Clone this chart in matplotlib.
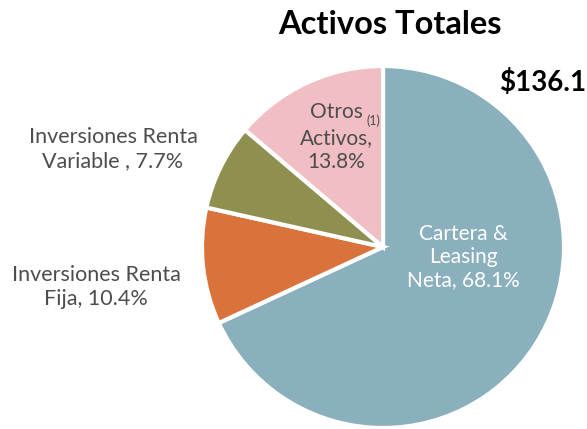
import matplotlib
matplotlib.use("Agg")
import matplotlib.pyplot as plt

categorias = ["Cartera &\nLeasing\nNeta", "Inversiones Renta\nFija", "Inversiones Renta\nVariable ", "Otros\nActivos"]
porcentajes = [68.1, 10.4, 7.7, 13.8]
colores = ["#8AAFBD", "#D9733B", "#8F8F4F", "#F0BEC3"]
titulo = "Activos Totales"
total = "$136.1"

W, H = 587, 429
fig = plt.figure(figsize=(W / 100, H / 100), dpi=100)

# pie centered at (383, 247) px, radius 181 px
cx, cy, r = 383, 247, 181
ax = fig.add_axes([(cx - r) / W, (H - cy - r) / H, 2 * r / W, 2 * r / H])
ax.pie(porcentajes, colors=colores, startangle=90, counterclock=False,
       wedgeprops=dict(edgecolor="white", linewidth=3))
ax.set_xlim(-1, 1)
ax.set_ylim(-1, 1)
ax.axis("off")

def txt(x, y, s, **kw):
    fig.text(x / W, 1 - y / H, s, **kw)

fuente = "Lato"
gris = "#4D4D4D"

txt(390, 25, titulo, ha="center", va="center", fontsize=23.5, fontweight="bold",
    family=fuente, color="black")
txt(543, 83, total, ha="center", va="center", fontsize=20, fontweight="bold",
    family=fuente, color="black")

etiquetas = [f"{c}, {p}%" for c, p in zip(categorias, porcentajes)]
txt(463, 257, etiquetas[0], ha="center", va="center", fontsize=15, family=fuente,
    color="white", linespacing=1.2)
txt(96, 287, etiquetas[1], ha="center", va="center", fontsize=15.5, family=fuente,
    color=gris, linespacing=1.25)
txt(113, 149, etiquetas[2], ha="center", va="center", fontsize=15.5, family=fuente,
    color=gris, linespacing=1.25)

# "Otros" line drawn apart so the (1) note sits right of it
primera, resto = categorias[3].split("\n", 1)
txt(336, 112, primera, ha="center", va="center", fontsize=15, family=fuente, color=gris)
txt(336, 150, f"{resto},\n{porcentajes[3]}%", ha="center", va="center", fontsize=15,
    family=fuente, color=gris, linespacing=1.2)
txt(373, 121, "(1)", ha="center", va="center", fontsize=9, family=fuente, color=gris)

fig.savefig("out.png", dpi=100)
